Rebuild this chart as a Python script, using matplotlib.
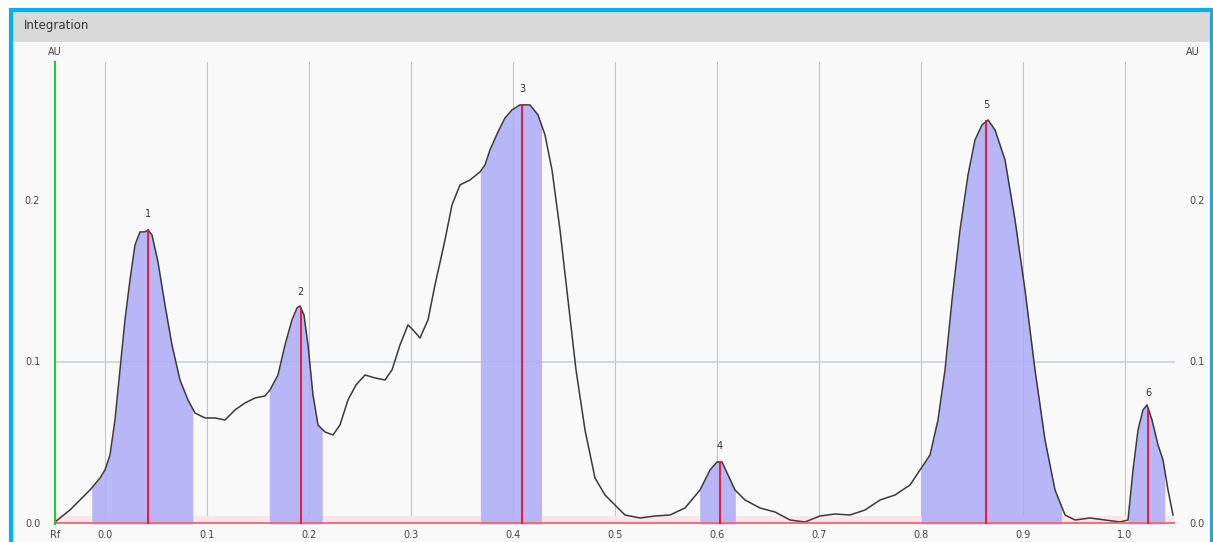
import numpy as np
import matplotlib
matplotlib.use("Agg")
import matplotlib.pyplot as plt
from matplotlib.patches import Rectangle

# ---- data ----
trace_x_px = [55, 60, 70, 80, 90, 100, 105, 110, 115, 120, 125, 130, 135, 140, 145, 148, 152, 158, 165, 172,
              180, 188, 195, 205, 215, 225, 235, 245, 255, 265, 270, 278, 285, 292, 297, 300, 304, 308, 313, 318,
              325, 333, 340, 348, 356, 365, 375, 385, 392, 400, 408, 413, 420, 428, 435, 445, 452, 460, 470, 480,
              485, 490, 498, 505, 512, 520, 530, 538, 545, 552, 560, 568, 576, 585, 595, 605, 615, 625, 640, 655,
              670, 685, 700, 710, 717, 722, 728, 735, 745, 760, 775, 790, 805, 820, 835, 850, 865, 880, 895, 910,
              920, 930, 938, 945, 952, 960, 968, 975, 982, 988, 995, 1005, 1015, 1025, 1035, 1045, 1055, 1065,
              1075, 1090, 1105, 1120, 1128, 1133, 1138, 1143, 1147, 1152, 1158, 1163, 1168, 1173]
trace_y_px = [522, 518, 510, 500, 490, 478, 470, 455, 420, 370, 320, 280, 245, 232, 232, 230, 235, 262, 305, 345,
              380, 400, 413, 418, 418, 420, 410, 403, 398, 396, 390, 375, 345, 320, 308, 306, 315, 345, 395, 425,
              432, 435, 425, 400, 385, 375, 378, 380, 370, 345, 325, 330, 338, 320, 285, 240, 205, 185, 180, 172,
              165, 150, 132, 118, 110, 105, 105, 115, 135, 170, 230, 300, 370, 430, 478, 495, 505, 515, 518, 516,
              515, 508, 490, 470, 462, 462, 475, 490, 500, 508, 512, 520, 522, 516, 514, 515, 510, 500, 495, 485,
              470, 455, 420, 370, 300, 230, 175, 140, 125, 120, 130, 160, 220, 290, 370, 440, 490, 515,
              520, 518, 520, 522, 520, 470, 430, 410, 405, 420, 445, 460, 490, 515]
# convert pixel readings to Rf / AU
rf = [(p - 105) / 1020.0 for p in trace_x_px]
au = [(524 - p) / 1615.0 for p in trace_y_px]

peak_labels = ["1", "2", "3", "4", "5", "6"]
peak_rf = [0.042, 0.192, 0.409, 0.603, 0.864, 1.023]
fill_start = [-0.013, 0.161, 0.368, 0.583, 0.800, 1.003]
fill_end = [0.086, 0.213, 0.428, 0.618, 0.938, 1.039]

x_ticks = [0.0, 0.1, 0.2, 0.3, 0.4, 0.5, 0.6, 0.7, 0.8, 0.9, 1.0]
y_ticks = [0.0, 0.1, 0.2]

# ---- figure ----
W, H = 1213, 542
fig = plt.figure(figsize=(W / 100, H / 100), dpi=100)
fig.patch.set_facecolor("white")

# panel background, header and border
fig.patches.append(Rectangle((12 / W, 0), (W - 14) / W, (H - 12) / H, transform=fig.transFigure,
                             facecolor="#f9f9f9", edgecolor="none", zorder=0))
fig.patches.append(Rectangle((12 / W, (H - 42) / H), (W - 14) / W, 30 / H, transform=fig.transFigure,
                             facecolor="#d9d9d9", edgecolor="none", zorder=0))
fig.patches.append(Rectangle((11 / W, -0.01), (W - 12) / W, (H - 10) / H + 0.01, transform=fig.transFigure,
                             facecolor="none", edgecolor="#00b0f0", linewidth=3, zorder=1))
fig.text(24 / W, 1 - 25 / H, "Integration", fontsize=8.5, color="#333333", va="center", ha="left",
         family="DejaVu Sans")

ax = fig.add_axes([55 / W, (H - 524) / H, 1120 / W, 462 / H])
ax.set_zorder(5)
ax.patch.set_alpha(0)
ax.set_xlim(-0.049, 1.049)
ax.set_ylim(0, 0.286)

x = np.array(rf)
y = np.array(au)

# grid
for xt in x_ticks:
    ax.axvline(xt, color="#c4c4c4", lw=0.8, zorder=1)
ax.axhline(0.1, color="#ccd2da", lw=1.2, zorder=1)

# baseline band
ax.axhspan(0, 0.005, color="#fde6ea", zorder=1.5, lw=0)

# integrated areas
for a, b in zip(fill_start, fill_end):
    m = (x > a) & (x < b)
    xs = np.concatenate([[a], x[m], [b]])
    ys = np.interp(xs, x, y)
    ax.fill_between(xs, 0, ys, color="#acacf8", alpha=0.85, lw=0, zorder=2)

# trace
ax.plot(x, y, color="#3a3a3a", lw=1.1, zorder=3)

# baseline
ax.axhline(0.0008, color="#e66a76", lw=1.3, zorder=4)

# peak markers and labels
for lab, pr in zip(peak_labels, peak_rf):
    h = np.interp(pr, x, y)
    ax.plot([pr, pr], [0, h], color="#e8102a", lw=1.3, zorder=4)
    ax.text(pr, h + 0.007, lab, ha="center", va="bottom", fontsize=7, color="#333333")

for s in ax.spines.values():
    s.set_visible(False)
ax.plot([-0.049, -0.049], [0, 0.286], color="#22cc22", lw=1.5, zorder=5, clip_on=False)

ax.set_xticks([])
ax.set_yticks([])
for xt in x_ticks:
    ax.text(xt, -0.0068, f"{xt:.1f}", ha="center", va="center", fontsize=7, color="#444444", clip_on=False)
for yt in y_ticks:
    ax.text(-0.071, yt, f"{yt:.1f}", ha="center", va="center", fontsize=7, color="#444444", clip_on=False)
    ax.text(1.063, yt, f"{yt:.1f}", ha="left", va="center", fontsize=7, color="#444444", clip_on=False)
ax.text(-0.049, -0.0068, "Rf", ha="center", va="center", fontsize=7, color="#444444", clip_on=False)
ax.text(-0.049, 0.292, "AU", ha="center", va="center", fontsize=7, color="#444444", clip_on=False)
ax.text(1.06, 0.292, "AU", ha="left", va="center", fontsize=7, color="#444444", clip_on=False)

fig.savefig("out.png", dpi=100)
